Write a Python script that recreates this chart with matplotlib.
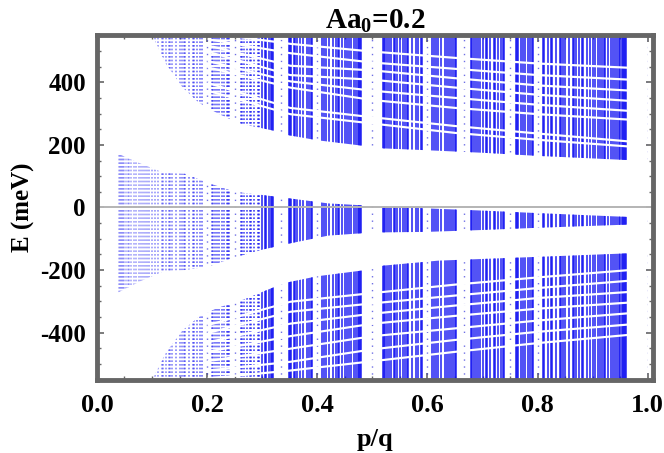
import math
import matplotlib
matplotlib.use("Agg")
import matplotlib.pyplot as plt
from matplotlib.patches import PathPatch
from matplotlib.ticker import MultipleLocator, AutoMinorLocator

plt.rcParams['font.family'] = ['Liberation Serif', 'DejaVu Serif']
plt.rcParams['font.weight'] = 'bold'
plt.rcParams['mathtext.fontset'] = 'custom'
plt.rcParams['mathtext.rm'] = 'Liberation Serif:bold'
plt.rcParams['mathtext.bf'] = 'Liberation Serif:bold'
plt.rcParams['mathtext.it'] = 'Liberation Serif:bold'

# flux values p/q (largest q read from the first / last column: 1/25 ... 24/25)
q_max = 25
flux = sorted({p / q for q in range(1, q_max + 1) for p in range(1, q + 1)
               if math.gcd(p, q) == 1})
denom = {p / q: q for q in range(q_max, 0, -1) for p in range(1, q + 1)}

# band envelopes (meV)
upper_x = [0.10, 0.125, 0.155, 0.185, 0.22, 0.26, 0.32, 0.345, 0.40,
           0.48, 0.52, 0.60, 0.70, 0.80, 0.96, 1.00]
upper_lo = [552, 460, 385, 335, 300, 268, 246, 232, 215,
            198, 189, 183, 175, 165, 152, 150]

lower_x = [0.10, 0.125, 0.155, 0.185, 0.22, 0.258, 0.32, 0.345, 0.40, 0.48,
           0.52, 0.62, 0.80, 0.96, 1.00]
lower_hi = [-552, -465, -394, -350, -320, -300, -256, -240, -220, -202,
            -186, -170, -158, -147, -145]

mid_x = [0.038, 0.08, 0.12, 0.16, 0.20, 0.25, 0.30, 0.35, 0.42, 0.50, 0.60,
         0.70, 0.80, 0.96, 1.00]
mid_hi = [172, 140, 112, 108, 80, 50, 40, 29, 13, 5, -3, -10, -18, -30, -32]
mid_lo = [-272, -235, -205, -200, -190, -160, -135, -115, -90, -80, -78,
          -72, -65, -55, -54]

# white gaps inside the outer bands
gap_x = [0.20, 0.35, 0.50, 0.65, 0.80, 0.97]
upper_gaps = [[375, 300, 270, 240, 218, 196],
              [400, 320, 290, 262, 238, 212],
              [450, 385, 345, 320, 300, 282],
              [470, 405, 375, 352, 330, 310],
              [500, 425, 410, 385, 362, 342],
              [520, 455, 440, 415, 392, 375],
              [540, 495, 465, 445, 425, 410],
              [560, 525, 500, 480, 462, 448]]
lower_gaps = [[-375, -300, -272, -245, -222, -198],
              [-400, -332, -305, -280, -256, -232],
              [-430, -370, -338, -312, -288, -268],
              [-460, -410, -370, -345, -322, -302],
              [-490, -450, -410, -385, -360, -336],
              [-520, -492, -452, -422, -396, -372],
              [-545, -520, -490, -460, -432, -405]]

fig = plt.figure(figsize=(6.64, 4.53), dpi=100)
ax = fig.add_axes([0.146, 0.161, 0.837, 0.762])
ax.set_xlim(0, 1.009)
ax.set_ylim(-552, 552)


def draw_band(xs, lo, hi):
    poly = ax.fill_between(xs, lo, hi, facecolor='none', edgecolor='none')
    patch = PathPatch(poly.get_paths()[0], facecolor='none', edgecolor='none')
    ax.add_patch(patch)
    left = [f for f in flux if denom[f] > 5 and f < 0.3]
    right = [f for f in flux if denom[f] > 5 and f >= 0.3]
    sparse = [f for f in flux if denom[f] <= 5]
    cols = [(0.1, 0.1, 0.95, 0.35 + 0.5 * max(0.0, (f - 0.05) / 0.25))
            for f in left]
    lc = ax.vlines(left, -600, 600, colors=cols, linewidth=1.2,
                   linestyles=(0, (1, 1.2)), zorder=2)
    lc.set_clip_path(patch)
    rc = ax.vlines(right, -600, 600, colors=[(0.05, 0.05, 0.95, 0.85)],
                   linewidth=1.2, zorder=2)
    rc.set_clip_path(patch)
    ls = ax.vlines(sparse, -600, 600, colors=[(0.2, 0.2, 0.85, 0.7)],
                   linewidth=1.0, linestyles=(0, (1, 4)), zorder=2)
    ls.set_clip_path(patch)


draw_band(upper_x, upper_lo, [600] * len(upper_x))
draw_band(lower_x, [-600] * len(lower_x), lower_hi)
draw_band(mid_x, mid_lo, mid_hi)

for g in upper_gaps + lower_gaps:
    ax.fill_between(gap_x, [v - 3.5 for v in g], [v + 3.5 for v in g],
                    color='white', linewidth=0, zorder=3)

ax.axhline(0, color='#b4b4b4', linewidth=1.4, zorder=4)

for s in ax.spines.values():
    s.set_color('#666666')
    s.set_linewidth(3.5)
    s.set_zorder(5)

ax.xaxis.set_major_locator(MultipleLocator(0.2))
ax.yaxis.set_major_locator(MultipleLocator(200))
ax.xaxis.set_minor_locator(AutoMinorLocator(4))
ax.yaxis.set_minor_locator(AutoMinorLocator(4))
ax.tick_params(which='both', direction='in', top=True, right=True,
               color='#666666', labelsize=18)
ax.tick_params(axis='x', labelsize=19, pad=10)
ax.tick_params(axis='y', pad=8)
ax.tick_params(which='major', length=5, width=1.2)
ax.tick_params(which='minor', length=3, width=1.0)
ax.set_xticks([0.0, 0.2, 0.4, 0.6, 0.8, 1.0])
ax.set_xticklabels(['0.0', '0.2', '0.4', '0.6', '0.8', '1.0'])
ax.set_yticks([-400, -200, 0, 200, 400])
ax.set_yticklabels(['-400', '-200', '0', '200', '400'])
for lab in ax.get_xticklabels() + ax.get_yticklabels():
    lab.set_fontweight('bold')

ax.set_title(r'Aa$_\mathbf{0}$=0.2', fontsize=21, fontweight='bold', pad=3)
ax.set_xlabel('p/q', fontsize=19, fontweight='bold', labelpad=8)
ax.set_ylabel('E (meV)', fontsize=18, fontweight='bold')
ax.yaxis.set_label_coords(-0.112, 0.5)

fig.savefig('out.png', dpi=100)
